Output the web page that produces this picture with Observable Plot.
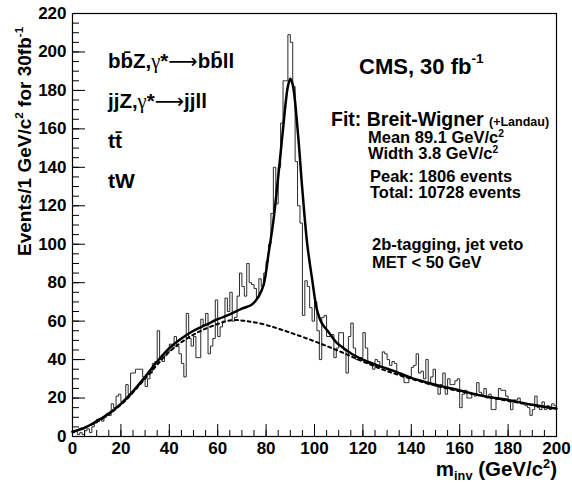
<!DOCTYPE html>
<html><head><meta charset="utf-8">
<script src="https://cdn.jsdelivr.net/npm/d3@7"></script>
<script src="https://cdn.jsdelivr.net/npm/@observablehq/plot@0.6"></script>
<style>body{margin:0;background:#fff}</style>
</head><body><div id="chart"></div>
<script>
// Histogram: events per 1 GeV bin, bins [0,1), [1,2), ... [199,200)
const counts = [
  2,3,1,2,1,3,4,2,5,7,
  9,9,8,10,12,11,17,15,21,22,
  18,19,27,22,33,33,35,35,35,31,
  26,30,33,38,39,55,40,39,42,44,
  48,46,52,47,43,38,31,64,51,47,
  52,41,41,61,58,64,43,47,51,71,
  52,57,60,72,65,75,60,62,73,85,
  78,73,90,80,79,77,72,82,78,85,
  91,100,116,140,121,140,163,185,185,209,
  205,182,143,120,111,63,81,78,67,60,
  70,55,40,62,63,52,52,53,41,46,
  54,54,45,33,52,59,46,40,41,41,
  54,46,38,38,35,40,39,36,44,43,
  40,37,39,38,33,32,31,28,28,31,
  36,37,43,33,34,30,40,27,31,35,
  26,22,27,33,22,30,27,27,29,30,
  15,22,24,20,20,22,21,28,23,22,
  25,20,22,14,14,20,25,24,24,21,
  19,14,19,19,20,17,17,16,15,11,
  14,21,15,14,18,14,16,14,17,16
];
const binWidth = 1;

// Fit: Breit-Wigner + Landau (solid)
const fitX = [0,5,10,15,20,25,30,35,40,45,50,55,60,65,70,74,77,79,81,83,85,87,89,90,91,93,95,97,99,101,103,106,109,112,116,120,126,133,140,150,160,170,180,190,200];
const fitY = [2.5,4.5,8,12,17,23.5,31,39,46,51,55,58,61,63.5,66.5,68.5,73,79,95,112,135,160,182,186,183,160,128,100,82,66,59,54,49,46,42.5,40,37,34,30.5,27,24,21,19,16.5,14.5];

// Landau background component (dotted)
const bgX = [0,10,20,30,40,50,60,66,72,80,90,100,110,120,130,140,150,160,170,180,190,200];
const bgY = [2.5,7.5,16.5,30,44,53,58.5,60.5,60,58,54,49.5,44.5,39,34,30,26.5,23.5,21,18.5,16.5,14.5];

const xTicks = [0,20,40,60,80,100,120,140,160,180,200];
const yTicks = [0,20,40,60,80,100,120,140,160,180,200,220];
const xMinor = d3.range(0, 201, 5);
const yMinor = d3.range(0, 221, 5);

const SANS = "'Liberation Sans', Arial, Helvetica, sans-serif";
const SERIF = "'Liberation Serif', 'DejaVu Serif', serif";

// build data tables
const hist = [{x: 0, y: 0}];
counts.forEach((c, i) => hist.push({x: i * binWidth, y: c}));
hist.push({x: counts.length * binWidth, y: counts[counts.length - 1]});
hist.push({x: counts.length * binWidth, y: 0});
const fit = fitX.map((x, i) => ({x, y: fitY[i]}));
const bg = bgX.map((x, i) => ({x, y: bgY[i]}));

const W = 572, H = 483, mL = 72, mR = 16, mT = 13, mB = 47;
const pw = W - mL - mR, ph = H - mT - mB;

const svg = Plot.plot({
  width: W, height: H,
  marginLeft: mL, marginRight: mR, marginTop: mT, marginBottom: mB,
  style: {fontFamily: SANS, background: "white", overflow: "visible"},
  x: {domain: [0, 200]},
  y: {domain: [0, 220]},
  marks: [
    Plot.line(hist, {x: "x", y: "y", curve: "step-after", stroke: "#2a2a2a", strokeWidth: 1}),
    Plot.line(bg, {x: "x", y: "y", curve: "catmull-rom", stroke: "black", strokeWidth: 2, strokeDasharray: "3,3.5"}),
    Plot.line(fit, {x: "x", y: "y", curve: "catmull-rom", stroke: "black", strokeWidth: 2.5}),
    Plot.tickX(xTicks, {x: d => d, insetTop: ph - 12, stroke: "black"}),
    Plot.tickX(xMinor, {x: d => d, insetTop: ph - 6, stroke: "black"}),
    Plot.tickY(yTicks, {y: d => d, insetRight: pw - 13, stroke: "black"}),
    Plot.tickY(yMinor, {y: d => d, insetRight: pw - 7, stroke: "black"}),
    Plot.axisX(xTicks, {tickSize: 0, tickPadding: 5, fontSize: 17, fontWeight: "bold", fill: "black", label: null}),
    Plot.axisY(yTicks, {tickSize: 0, tickPadding: 6, fontSize: 17, fontWeight: "bold", fill: "black", label: null}),
    Plot.frame({stroke: "black", strokeWidth: 1.2})
  ]
});
document.getElementById("chart").appendChild(svg);

function addText(x, y, parts, size, opts = {}) {
  const t = d3.select(svg).append("text")
    .attr("x", x).attr("y", y)
    .attr("font-size", size).attr("font-weight", "bold")
    .attr("font-family", SANS).attr("fill", "black")
    .attr("text-anchor", opts.anchor || "start");
  if (opts.rotate) t.attr("transform", `rotate(-90 ${x} ${y})`);
  let shift = 0;
  for (const p of parts) {
    const s = t.append("tspan").text(p.t);
    const target = p.sup ? -(opts.supShift || 0.42) * size : p.sub ? (opts.subShift || 0.3) * size : 0;
    if (target !== shift) { s.attr("dy", target - shift); shift = target; }
    if (p.sup || p.sub) s.attr("font-size", size * 0.62);
    if (p.size) s.attr("font-size", p.size);
    if (p.font) s.attr("font-family", p.font);
    if (p.weight) s.attr("font-weight", p.weight);
  }
  return t;
}

// axis titles
addText(31, 256, [{t: "Events/1 GeV/c"}, {t: "2", sup: true}, {t: " for 30fb"}, {t: "-1", sup: true}], 19, {rotate: true});
addText(557, 476, [{t: "m"}, {t: "inv", sub: true}, {t: " (GeV/c"}, {t: "2", sup: true}, {t: ")"}], 20.5, {anchor: "end", subShift: 0.2, supShift: 0.38});

// process legend
const arrow = {t: "\u27F6", font: "'DejaVu Sans', sans-serif", weight: "normal"};
const gamma = {t: "\u03B3", font: SERIF, weight: "normal"};
addText(108, 68, [{t: "bb\u0304Z,"}, gamma, {t: "*"}, arrow, {t: "bb\u0304ll"}], 20.5);
addText(108, 108, [{t: "jjZ,"}, gamma, {t: "*"}, arrow, {t: "jjll"}], 20.5);
addText(108, 148, [{t: "tt\u0304"}], 21);
addText(108, 188, [{t: "tW"}], 21);

// right-hand annotations
addText(359, 74, [{t: "CMS, 30 fb"}, {t: "-1", sup: true}], 22, {supShift: 0.5});
addText(331, 126, [{t: "Fit: Breit-Wigner "}, {t: "(+Landau)", size: 12.5}], 19.5);
addText(368, 143, [{t: "Mean 89.1 GeV/c"}, {t: "2", sup: true}], 16.5, {supShift: 0.34});
addText(368, 159, [{t: "Width 3.8 GeV/c"}, {t: "2", sup: true}], 16.5, {supShift: 0.34});
addText(370, 182, [{t: "Peak: 1806 events"}], 16.5);
addText(370, 198, [{t: "Total: 10728 events"}], 16.5);
addText(372, 250, [{t: "2b-tagging, jet veto"}], 16.5);
addText(372, 268, [{t: "MET < 50 GeV"}], 16.5);
</script>
</body></html>
